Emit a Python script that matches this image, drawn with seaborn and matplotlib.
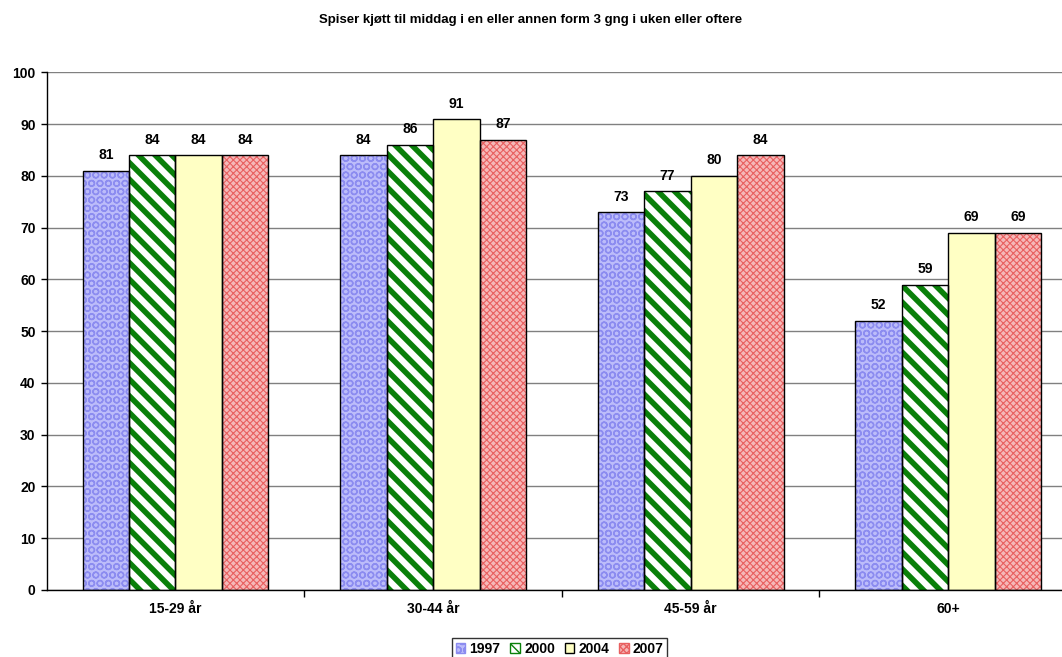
import matplotlib
matplotlib.use("Agg")
import matplotlib.pyplot as plt
from matplotlib.patches import Rectangle, Patch
import seaborn as sns
import pandas as pd

title = "Spiser kjøtt til middag i en eller annen form 3 gng i uken eller oftere"
groups = ["15-29 år", "30-44 år", "45-59 år", "60+"]
years = ["1997", "2000", "2004", "2007"]
v1997 = [81, 84, 73, 52]
v2000 = [84, 86, 77, 59]
v2004 = [84, 91, 80, 69]
v2007 = [84, 87, 84, 69]
y_ticks = [0, 10, 20, 30, 40, 50, 60, 70, 80, 90, 100]

series = {"1997": v1997, "2000": v2000, "2004": v2004, "2007": v2007}
rows = []
for yr in years:
    for g, v in zip(groups, series[yr]):
        rows.append({"group": g, "year": yr, "value": v})
df = pd.DataFrame(rows)

# fill colour, hatch colour, hatch pattern, hatch line width for each year
styles = {
    "1997": ("#bcbcfa", "#8c8cf0", "OO", 1.0),
    "2000": ("#ffffff", "#0a800a", "\\\\", 4.0),
    "2004": ("#ffffc4", "#000000", "", 1.0),
    "2007": ("#f6b8b8", "#e86060", "xxxxx", 0.8),
}

sns.set_style("white")
plt.rcParams["font.family"] = ["Liberation Sans", "DejaVu Sans"]
plt.rcParams["hatch.linewidth"] = 1.0
plt.rcParams["text.color"] = "black"
plt.rcParams["xtick.color"] = "black"
plt.rcParams["ytick.color"] = "black"

fig = plt.figure(figsize=(10.62, 6.57), dpi=100)
ax = fig.add_axes([0.044, 0.102, 0.970, 0.788])

sns.barplot(data=df, x="group", y="value", hue="year", order=groups,
            hue_order=years, width=0.722, gap=0, dodge=True,
            palette=[styles[y][0] for y in years], linewidth=0,
            saturation=1, legend=False, ax=ax)


def style_patch(p, yr):
    face, hc, hatch, hlw = styles[yr]
    p.set_hatch(hatch)
    p.set_edgecolor(hc)
    if hasattr(p, "set_hatch_linewidth"):
        p.set_hatch_linewidth(hlw)


for yr, cont in zip(years, ax.containers):
    for p in cont.patches:
        style_patch(p, yr)
        p.set_linewidth(0)
        ax.add_patch(Rectangle(p.get_xy(), p.get_width(), p.get_height(),
                               fill=False, edgecolor="black", linewidth=1.0,
                               zorder=p.get_zorder() + 0.1))
    ax.bar_label(cont, labels=[f"{v:g}" for v in cont.datavalues], padding=6,
                 fontsize=10, fontweight="bold", color="black")

ax.set_ylim(0, 100)
ax.set_xlim(-0.5, len(groups) - 0.5)
ax.set_yticks(y_ticks)
ax.set_yticklabels([str(t) for t in y_ticks], fontsize=10, fontweight="bold")
ax.set_xticks(range(len(groups)))
ax.set_xticklabels(groups, fontsize=10, fontweight="bold")
ax.tick_params(axis="x", length=0, pad=9)
ax.tick_params(axis="y", length=4, width=1, color="black", pad=4, left=True)
# category separator ticks below the x axis
ax.set_xticks([i + 0.5 for i in range(len(groups) - 1)], minor=True)
ax.tick_params(axis="x", which="minor", length=5, width=1, color="black", bottom=True)
ax.set_xlabel("")
ax.set_ylabel("")
ax.yaxis.grid(True, color="#808080", linewidth=1)
ax.set_axisbelow(True)
for s in ["top", "right"]:
    ax.spines[s].set_visible(False)
for s in ["left", "bottom"]:
    ax.spines[s].set_color("black")
    ax.spines[s].set_linewidth(1)

fig.suptitle(title, fontsize=9.5, fontweight="bold", y=0.978, color="black")

handles = []
for y in years:
    h = Patch(facecolor=styles[y][0], edgecolor=styles[y][1],
              hatch=styles[y][2], linewidth=1)
    handles.append(h)
leg = fig.legend(handles, years, loc="lower center", bbox_to_anchor=(0.527, -0.014),
                 ncol=4, frameon=True, fancybox=False, edgecolor="black",
                 prop={"weight": "bold", "size": 10}, handlelength=0.7,
                 handleheight=0.7, handletextpad=0.3, columnspacing=0.7,
                 borderpad=0.25)
leg.get_frame().set_linewidth(1)

fig.savefig("out.png", dpi=100, facecolor="white")
